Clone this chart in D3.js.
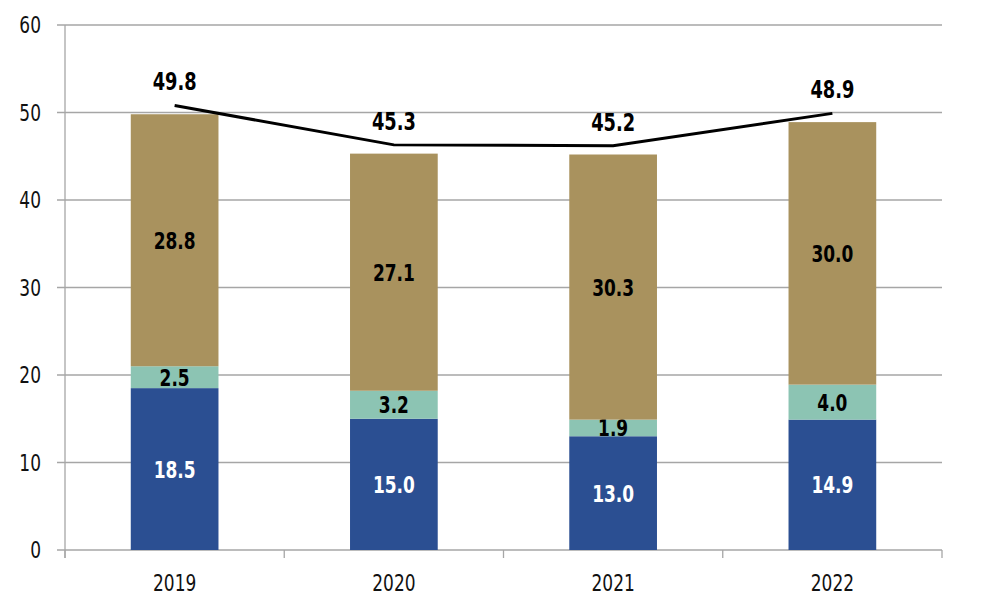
<!DOCTYPE html>
<html lang="en">
<head>
    <meta charset="UTF-8">
    <title>Stacked totals 2019-2022</title>
    <script src="https://d3js.org/d3.v7.min.js"></script>
    <style>
        body {
            margin: 0;
            padding: 0;
            background-color: #fff;
            font-family: "DejaVu Sans Condensed", "DejaVu Sans", sans-serif;
            font-stretch: condensed;
        }
        svg { display: block; }
        text { font-stretch: condensed; }
        .grid line { stroke: #a6a6a6; stroke-width: 1.3; }
        .tick-label { font-size: 21px; fill: #111; }
        .seg-label { font-size: 21px; font-weight: bold; text-anchor: middle; }
        .total-label { font-size: 22px; font-weight: bold; text-anchor: middle; fill: #000; }
    </style>
</head>
<body>
    <div id="chart"></div>
    <script>
        // data
        const years = ["2019", "2020", "2021", "2022"];
        const seriesNames = ["bottom", "middle", "top"];
        const bottomValues = [18.5, 15.0, 13.0, 14.9];
        const middleValues = [2.5, 3.2, 1.9, 4.0];
        const topValues = [28.8, 27.1, 30.3, 30.0];
        const totalLabels = [49.8, 45.3, 45.2, 48.9];
        // the line sits a little above the bar tops in the original
        const lineValues = [50.8, 46.3, 46.2, 49.9];
        const yTicks = [0, 10, 20, 30, 40, 50, 60];

        const colors = {
            bottom: "#2b4f92",
            middle: "#8cc4b3",
            top: "#a9925e"
        };
        const labelColors = { bottom: "#fff", middle: "#000", top: "#000" };

        const W = 1006, H = 608;
        const margin = { top: 25, right: 64, bottom: 58, left: 65 };
        const width = W - margin.left - margin.right;
        const height = H - margin.top - margin.bottom;

        const rows = years.map((y, i) => ({
            year: y,
            bottom: bottomValues[i],
            middle: middleValues[i],
            top: topValues[i]
        }));
        const totals = years.map((y, i) => ({ year: y, label: totalLabels[i], value: lineValues[i] }));

        const svg = d3.select("#chart")
            .append("svg")
            .attr("width", W)
            .attr("height", H)
            .append("g")
            .attr("transform", `translate(${margin.left},${margin.top})`);

        const x = d3.scaleBand()
            .domain(years)
            .range([0, width])
            .paddingInner(0.6)
            .paddingOuter(0.3);

        const y = d3.scaleLinear()
            .domain([0, 60])
            .range([height, 0]);

        const cx = yr => x(yr) + x.bandwidth() / 2;

        // horizontal gridlines
        svg.append("g")
            .attr("class", "grid")
            .selectAll("line")
            .data(yTicks)
            .enter()
            .append("line")
            .attr("x1", -8)
            .attr("x2", width)
            .attr("y1", d => y(d))
            .attr("y2", d => y(d));

        // y axis line
        svg.append("line")
            .attr("x1", 0).attr("x2", 0)
            .attr("y1", 0).attr("y2", height + 8)
            .attr("stroke", "#a6a6a6")
            .attr("stroke-width", 1.3);

        // x axis ticks at category boundaries
        const step = x.step();
        const boundaries = d3.range(years.length + 1).map(i => i * step);
        svg.append("g")
            .selectAll("line")
            .data(boundaries)
            .enter()
            .append("line")
            .attr("x1", d => d).attr("x2", d => d)
            .attr("y1", height).attr("y2", height + 8)
            .attr("stroke", "#a6a6a6")
            .attr("stroke-width", 1.3);

        // stretch glyphs vertically a touch, the original face is tall and narrow
        const place = (sel, px, py) => sel
            .attr("transform", d => `translate(${px(d)},${py(d)}) scale(0.9,1.12)`);

        // y tick labels
        svg.append("g")
            .selectAll("text")
            .data(yTicks)
            .enter()
            .append("text")
            .attr("class", "tick-label")
            .attr("dy", "0.36em")
            .attr("text-anchor", "end")
            .call(place, () => -24, d => y(d))
            .text(d => d);

        // x tick labels
        svg.append("g")
            .selectAll("text")
            .data(years)
            .enter()
            .append("text")
            .attr("class", "tick-label")
            .attr("dy", "0.36em")
            .attr("text-anchor", "middle")
            .call(place, d => cx(d), () => height + 33)
            .text(d => d);

        // stacked bars
        const stacked = d3.stack().keys(seriesNames)(rows);

        const layers = svg.selectAll(".layer")
            .data(stacked)
            .enter()
            .append("g")
            .attr("class", "layer")
            .attr("fill", d => colors[d.key]);

        layers.selectAll("rect")
            .data(d => d)
            .enter()
            .append("rect")
            .attr("x", d => x(d.data.year))
            .attr("y", d => y(d[1]))
            .attr("width", x.bandwidth())
            .attr("height", d => y(d[0]) - y(d[1]));

        layers.each(function (layer) {
            d3.select(this).selectAll("text")
                .data(layer)
                .enter()
                .append("text")
                .attr("class", "seg-label")
                .attr("fill", labelColors[layer.key])
                .attr("dy", "0.36em")
                .call(place, d => cx(d.data.year), d => (y(d[0]) + y(d[1])) / 2)
                .text(d => d.data[layer.key].toFixed(1));
        });

        // total line
        const line = d3.line()
            .x(d => cx(d.year))
            .y(d => y(d.value));

        svg.append("path")
            .datum(totals)
            .attr("d", line)
            .attr("fill", "none")
            .attr("stroke", "#000")
            .attr("stroke-width", 3);

        svg.append("g")
            .selectAll("text")
            .data(totals)
            .enter()
            .append("text")
            .attr("class", "total-label")
            .attr("dy", "0.36em")
            .call(place, d => cx(d.year), d => y(d.value) - 24)
            .text(d => d.label.toFixed(1));
    </script>
</body>
</html>
